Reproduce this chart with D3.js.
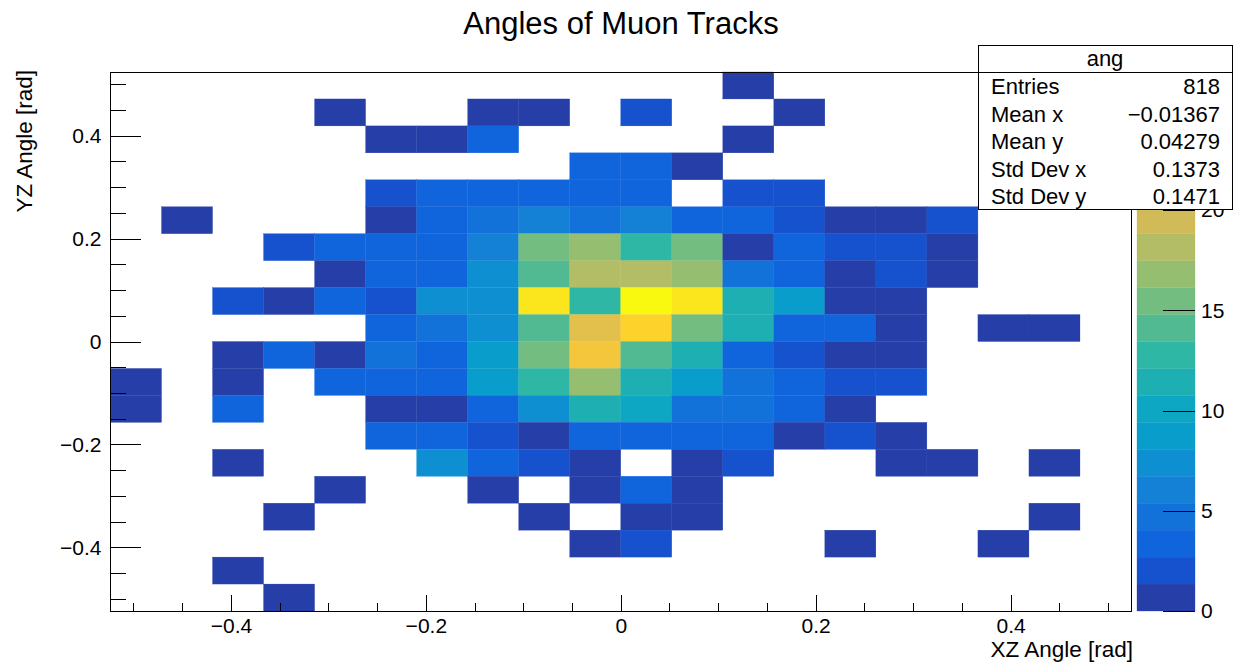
<!DOCTYPE html>
<html lang="en">
<head>
<meta charset="UTF-8">
<title>Angles of Muon Tracks</title>
<script src="https://d3js.org/d3.v7.min.js"></script>
<style>
  body { margin: 0; background: #fff; }
  svg text { font-family: "Liberation Sans", Arial, Helvetica, sans-serif; fill: #000; }
  .axis path { display: none; }
  .axis line { stroke: #000; shape-rendering: crispEdges; }
  .axis text { font-size: 21px; }
</style>
</head>
<body>
<svg id="chart" width="1233" height="664"></svg>
<script>
// histogram range (rad), 20 x 20 bins
const xLow = -0.5236, xHigh = 0.5236;
const yLow = -0.5236, yHigh = 0.5236;
const nBins = 20;

// bin contents, first row = highest YZ bin, first column = lowest XZ bin
const counts = [
  [0,0,0,0,0,0,0,0,0,0,0,0,1,0,0,0,0,0,0,0],
  [0,0,0,0,1,0,0,1,1,0,2,0,0,1,0,0,0,0,0,0],
  [0,0,0,0,0,1,1,3,0,0,0,0,1,0,0,0,0,0,0,0],
  [0,0,0,0,0,0,0,0,0,3,3,1,0,0,0,0,0,0,0,0],
  [0,0,0,0,0,2,3,3,3,3,3,0,2,2,0,0,0,0,0,0],
  [0,1,0,0,0,1,3,5,6,5,6,3,3,2,1,1,2,0,0,0],
  [0,0,0,2,3,3,3,6,16,17,13,16,1,3,2,2,1,0,0,0],
  [0,0,0,0,1,3,3,8,14,18,18,17,5,3,1,2,1,0,0,0],
  [0,0,2,1,3,2,8,8,25,13,26,25,12,9,1,1,0,0,0,0],
  [0,0,0,0,0,3,5,8,14,21,24,15,12,3,3,1,0,1,1,0],
  [0,0,1,3,1,5,3,9,16,22,14,12,3,2,1,1,0,0,0,0],
  [1,0,1,0,3,3,3,9,13,17,12,9,5,3,2,2,0,0,0,0],
  [1,0,3,0,0,1,1,3,8,12,10,5,5,3,1,0,0,0,0,0],
  [0,0,0,0,0,3,3,2,1,3,3,3,3,1,2,1,0,0,0,0],
  [0,0,1,0,0,0,8,3,2,1,0,1,2,0,0,1,1,0,1,0],
  [0,0,0,0,1,0,0,1,0,1,3,1,0,0,0,0,0,0,0,0],
  [0,0,0,1,0,0,0,0,1,0,1,1,0,0,0,0,0,0,1,0],
  [0,0,0,0,0,0,0,0,0,1,2,0,0,0,1,0,0,1,0,0],
  [0,0,1,0,0,0,0,0,0,0,0,0,0,0,0,0,0,0,0,0],
  [0,0,0,1,0,0,0,0,0,0,0,0,0,0,0,0,0,0,0,0]
];

const zMax = 26.9;
const nContours = 20;

const xTicks = [-0.4, -0.2, 0, 0.2, 0.4];
const yTicks = [-0.4, -0.2, 0, 0.2, 0.4];
const zTicks = [0, 5, 10, 15, 20];

const statName = "ang";
const statLabels = ["Entries", "Mean x", "Mean y", "Std Dev x", "Std Dev y"];
const statValues = ["818", "\u22120.01367", "0.04279", "0.1373", "0.1471"];

// ROOT kBird palette
const birdStops = [0.0, 0.125, 0.25, 0.375, 0.5, 0.625, 0.75, 0.875, 1.0];
const birdR = [0.2082, 0.0592, 0.0780, 0.0232, 0.1802, 0.5301, 0.8186, 0.9956, 0.9764];
const birdG = [0.1664, 0.3599, 0.5041, 0.6419, 0.7178, 0.7492, 0.7328, 0.7862, 0.9832];
const birdB = [0.5293, 0.8684, 0.8385, 0.7914, 0.6425, 0.4662, 0.3499, 0.1968, 0.0539];

function paletteColor(i) {
  // same split as TColor::CreateGradientColorTable with 255 colours
  for (let g = 1; g < birdStops.length; g++) {
    const b0 = Math.floor(255 * birdStops[g - 1]);
    const b1 = Math.floor(255 * birdStops[g]);
    if (i < b1 || g === birdStops.length - 1) {
      const t = (i - b0) / (b1 - b0);
      const c = (a) => Math.round(255 * (a[g - 1] + t * (a[g] - a[g - 1])));
      return d3.rgb(c(birdR), c(birdG), c(birdB)).formatHex();
    }
  }
}
function bandColor(k) {
  return paletteColor(Math.floor((k + 0.99) * 255 / nContours));
}
function valueColor(v) {
  const k = Math.min(nContours - 1, Math.floor(v / zMax * nContours));
  return bandColor(k);
}

const frame = { left: 110.5, right: 1131, top: 72, bottom: 611 };
const svg = d3.select("#chart");

const x = d3.scaleLinear().domain([xLow, xHigh]).range([frame.left, frame.right]);
const y = d3.scaleLinear().domain([yLow, yHigh]).range([frame.bottom, frame.top]);
const z = d3.scaleLinear().domain([0, zMax]).range([frame.bottom, frame.top]);

const xw = (xHigh - xLow) / nBins, yw = (yHigh - yLow) / nBins;

// cells
const cells = [];
counts.forEach((row, r) => row.forEach((v, c) => {
  if (v > 0) cells.push({ c, r, v });
}));

svg.append("g").selectAll("rect")
  .data(cells)
  .enter().append("rect")
  .attr("x", d => x(xLow + d.c * xw))
  .attr("width", d => x(xLow + (d.c + 1) * xw) - x(xLow + d.c * xw))
  .attr("y", d => y(yHigh - d.r * yw))
  .attr("height", d => y(yHigh - (d.r + 1) * yw) - y(yHigh - d.r * yw))
  .attr("fill", d => valueColor(d.v))
  .attr("stroke", d => valueColor(d.v))
  .attr("stroke-width", 0.3);

// axes
const xMinor = d3.range(-10, 11).map(i => i * 0.05);
const yMinor = d3.range(-10, 11).map(i => i * 0.05);

svg.append("g").attr("class", "axis")
  .attr("transform", `translate(0,${frame.bottom})`)
  .call(d3.axisBottom(x).tickValues(xMinor).tickSize(-8).tickSizeOuter(0).tickFormat(""));
svg.append("g").attr("class", "axis")
  .attr("transform", `translate(0,${frame.bottom})`)
  .call(d3.axisBottom(x).tickValues(xTicks).tickSize(-16).tickSizeOuter(0)
    .tickPadding(7).tickFormat(d3.format("~g")));

svg.append("g").attr("class", "axis")
  .attr("transform", `translate(${frame.left},0)`)
  .call(d3.axisLeft(y).tickValues(yMinor).tickSize(-15).tickSizeOuter(0).tickFormat(""));
svg.append("g").attr("class", "axis")
  .attr("transform", `translate(${frame.left},0)`)
  .call(d3.axisLeft(y).tickValues(yTicks).tickSize(-30).tickSizeOuter(0)
    .tickPadding(9).tickFormat(d3.format("~g")));

// frame
svg.append("rect")
  .attr("x", frame.left).attr("y", frame.top)
  .attr("width", frame.right - frame.left).attr("height", frame.bottom - frame.top)
  .attr("fill", "none").attr("stroke", "#000").attr("stroke-width", 1)
  .attr("shape-rendering", "crispEdges");

// colour bar
const barX0 = 1137, barX1 = 1195;
const dz = zMax / nContours;
svg.append("g").selectAll("rect")
  .data(d3.range(nContours))
  .enter().append("rect")
  .attr("x", barX0)
  .attr("width", barX1 - barX0)
  .attr("y", k => z((k + 1) * dz))
  .attr("height", k => z(k * dz) - z((k + 1) * dz))
  .attr("fill", k => bandColor(k))
  .attr("stroke", k => bandColor(k))
  .attr("stroke-width", 0.3);

svg.append("g").attr("class", "axis")
  .attr("transform", `translate(${barX1},0)`)
  .call(d3.axisRight(z).tickValues(zTicks).tickSize(-32).tickSizeOuter(0)
    .tickPadding(6).tickFormat(d3.format("d")));

// axis titles
svg.append("text")
  .attr("x", 1133).attr("y", 657)
  .attr("text-anchor", "end")
  .style("font-size", "22.5px")
  .text("XZ Angle [rad]");

svg.append("text")
  .attr("transform", "translate(32,70) rotate(-90)")
  .attr("text-anchor", "end")
  .style("font-size", "22.5px")
  .text("YZ Angle [rad]");

// title
svg.append("text")
  .attr("x", 621).attr("y", 34)
  .attr("text-anchor", "middle")
  .style("font-size", "31px")
  .text("Angles of Muon Tracks");

// stats box
const box = { x0: 978, x1: 1232, y0: 45, yh: 72, y1: 209 };
svg.append("rect")
  .attr("x", box.x0 + 0.5).attr("y", box.y0 + 0.5)
  .attr("width", box.x1 - box.x0).attr("height", box.y1 - box.y0)
  .attr("fill", "#fff").attr("stroke", "#000").attr("stroke-width", 1);
svg.append("line")
  .attr("x1", box.x0).attr("x2", box.x1)
  .attr("y1", box.yh + 0.5).attr("y2", box.yh + 0.5)
  .attr("stroke", "#000");
svg.append("text")
  .attr("x", (box.x0 + box.x1) / 2).attr("y", 66)
  .attr("text-anchor", "middle")
  .style("font-size", "22px")
  .text(statName);

const rowH = (box.y1 - box.yh) / statLabels.length;
const stats = svg.append("g").style("font-size", "22px");
stats.selectAll("text.lab")
  .data(statLabels)
  .enter().append("text")
  .attr("class", "lab")
  .attr("x", 991)
  .attr("y", (d, i) => box.yh + (i + 0.5) * rowH + 1)
  .attr("dy", "0.35em")
  .text(d => d);
stats.selectAll("text.val")
  .data(statValues)
  .enter().append("text")
  .attr("class", "val")
  .attr("x", 1220)
  .attr("y", (d, i) => box.yh + (i + 0.5) * rowH + 1)
  .attr("dy", "0.35em")
  .attr("text-anchor", "end")
  .text(d => d);
</script>
</body>
</html>
